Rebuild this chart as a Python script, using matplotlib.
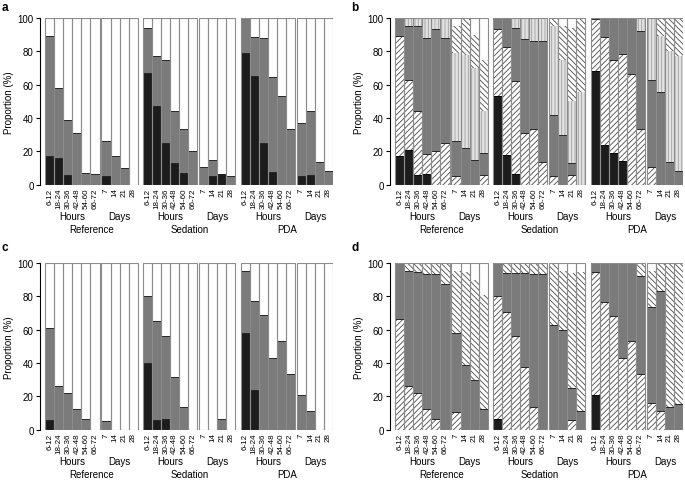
import numpy as np
import matplotlib
matplotlib.use('Agg')
import matplotlib.pyplot as plt

plt.rcParams['font.family'] = ['Liberation Sans', 'DejaVu Sans']
plt.rcParams['hatch.linewidth'] = 0.6

groups = ['Reference', 'Sedation', 'PDA']
hour_labels = ['6-12', '18-24', '30-36', '42-48', '54-60', '66-72']
day_labels = ['7', '14', '21', '28']

# every list: Reference (6 hours + 4 days), Sedation (...), PDA (...)
# panel a
a_black = [17, 16, 6, 0, 0, 0, 5.5, 0, 0, 0,
           67, 47, 25, 13, 7, 0, 0, 5, 6.5, 0,
           79, 65, 25, 7.5, 0, 0, 5.5, 6, 0, 0]
a_grey = [72, 42, 33, 31, 7, 6.5, 21, 17, 10, 0,
          27, 30, 50, 31, 26.5, 20, 10.5, 10, 0, 5.5,
          21, 23.5, 63, 57, 53.5, 33.5, 31.5, 38.5, 13.5, 8]

# panel b
b_black = [17, 21, 6, 6.5, 0, 0, 0, 0, 0, 0,
           53.5, 18, 6.5, 0, 0, 0, 0, 0, 0, 0,
           68.5, 24, 19, 14.5, 0, 0, 0, 0, 0, 0]
b_fwd = [72, 42, 38.5, 12, 20, 25, 5, 0, 0, 6,
         40, 64.5, 56, 31, 33.5, 13.5, 5, 0, 6, 0,
         31, 64.5, 56, 64, 66.5, 33.5, 10.5, 0, 0, 0]
b_grey = [11, 32, 50.5, 69.5, 73.5, 63, 21.5, 22, 15, 13,
          6.5, 17.5, 31.5, 56.5, 53, 73, 37, 30, 7, 0,
          0.5, 11.5, 25, 21.5, 33.5, 58.5, 52.5, 55.5, 13.5, 8]
b_vert = [0, 5, 5, 12, 6.5, 12, 52.5, 56, 55, 25,
          0, 0, 6, 12.5, 13.5, 13.5, 53, 45, 37, 55.5,
          0, 0, 0, 0, 0, 8, 37, 33.5, 66.5, 69]
b_back = [0, 0, 0, 0, 0, 0, 16, 22, 20, 31,
          0, 0, 0, 0, 0, 0, 5, 20, 44, 44.5,
          0, 0, 0, 0, 0, 0, 0, 11, 20, 23]

# panel c
c_black = [6, 0, 0, 0, 0, 0, 0, 0, 0, 0,
           40, 6, 6.5, 0, 0, 0, 0, 0, 0, 0,
           58, 24, 0, 0, 0, 0, 0, 0, 0, 0]
c_grey = [55, 26.5, 22, 12.5, 6.5, 0, 5, 0, 0, 0,
          40, 59, 50, 31.5, 13.5, 0, 0, 0, 6.5, 0,
          37, 53, 69, 43, 53.5, 33.5, 21, 11, 0, 0]

# panel d
d_black = [0, 0, 0, 0, 0, 0, 0, 0, 0, 0,
           6.5, 0, 0, 0, 0, 0, 0, 0, 0, 0,
           21, 0, 0, 0, 0, 0, 0, 0, 0, 0]
d_fwd = [66.5, 26.5, 22, 12.5, 6.5, 0, 10.5, 0, 0, 0,
         73.5, 70.5, 56, 37.5, 13.5, 0, 0, 0, 6, 0,
         73.5, 76.5, 68.5, 43, 53.5, 33.5, 16, 11, 0, 0]
d_grey = [33.5, 68.5, 72.5, 81, 87, 87.5, 47.5, 39, 30, 12.5,
          20, 23.5, 38, 56.5, 80, 93.5, 63, 60, 19, 11,
          5.5, 23.5, 31.5, 57, 46.5, 58.5, 57.5, 72.5, 13.5, 15.5]
d_back = [0, 5, 5.5, 6.5, 6.5, 12.5, 37, 55.5, 60, 68.5,
          0, 6, 6, 6, 6.5, 6.5, 37, 35, 69, 83.5,
          0, 0, 0, 0, 0, 8, 21.5, 16.5, 86.5, 84.5]

styles = {
    'black': dict(color='#1c1c1c', edgecolor='#000000', linewidth=0.7),
    'fwd': dict(color='white', hatch='//////', edgecolor='#4a4a4a', linewidth=0),
    'grey': dict(color='#7b7b7b', edgecolor='#262626', linewidth=0.7),
    'vert': dict(color='#e2e2e2', hatch='|||||', edgecolor='#a0a0a0', linewidth=0),
    'back': dict(color='white', hatch='\\\\\\\\\\\\', edgecolor='#4a4a4a', linewidth=0),
}

HD_GAP = 0.22
GRP_GAP = 0.62
x_pos = []
for g in range(3):
    off = g * (10 + HD_GAP + GRP_GAP)
    x_pos += [off + i + 0.5 for i in range(6)]
    x_pos += [off + 6 + HD_GAP + j + 0.5 for j in range(4)]
x_pos = np.array(x_pos)

fig = plt.figure(figsize=(6.85, 4.81), dpi=100)
W, H = 685.0, 481.0


def draw_panel(rect, layers, letter, letter_xy):
    ax = fig.add_axes(rect)
    bottom = np.zeros(len(x_pos))
    for vals, key in layers:
        vals = np.array(vals, dtype=float)
        ax.bar(x_pos, vals, width=1, bottom=bottom, **styles[key])
        bottom += vals
    ax.bar(x_pos, 100 - bottom, width=1, bottom=bottom, color='white', linewidth=0)
    ax.bar(x_pos, 100, width=1, fill=False, edgecolor='#8c8c8c', linewidth=0.8)

    ax.set_xlim(-0.6, 31.9)
    ax.set_ylim(0, 100)
    ax.set_yticks([0, 20, 40, 60, 80, 100])
    ax.tick_params(axis='y', labelsize=7, length=3, width=0.8, pad=1.5)
    ax.set_xticks(x_pos)
    ax.set_xticklabels((hour_labels + day_labels) * 3, rotation=90, fontsize=5.8)
    ax.tick_params(axis='x', length=0, pad=2)
    for s in ['top', 'right', 'bottom']:
        ax.spines[s].set_visible(False)
    ax.spines['left'].set_linewidth(0.8)
    ax.set_ylabel('Proportion (%)', fontsize=7)
    ax.yaxis.set_label_coords(-0.09, 0.5)

    trans = ax.get_xaxis_transform()
    for g in range(3):
        h_c = (x_pos[g * 10] + x_pos[g * 10 + 5]) / 2
        d_c = (x_pos[g * 10 + 6] + x_pos[g * 10 + 9]) / 2
        ax.text(h_c, -0.188, 'Hours', transform=trans, ha='center', va='center', fontsize=7)
        ax.text(d_c, -0.188, 'Days', transform=trans, ha='center', va='center', fontsize=7)
        ax.text((x_pos[g * 10] + x_pos[g * 10 + 9]) / 2, -0.268, groups[g],
                transform=trans, ha='center', va='center', fontsize=7)
    fig.text(letter_xy[0] / W, 1 - letter_xy[1] / H, letter, fontsize=8.5,
             fontweight='bold', ha='left', va='top')
    return ax


ax_h = 166.7 / H
ax_w = 293 / W
draw_panel([40 / W, 1 - 185.7 / H, ax_w, ax_h],
           [(a_black, 'black'), (a_grey, 'grey')], 'a', (2, 2))
draw_panel([390 / W, 1 - 185.7 / H, ax_w, ax_h],
           [(b_black, 'black'), (b_fwd, 'fwd'), (b_grey, 'grey'),
            (b_vert, 'vert'), (b_back, 'back')], 'b', (351, 2))
draw_panel([40 / W, 1 - 430.7 / H, ax_w, ax_h],
           [(c_black, 'black'), (c_grey, 'grey')], 'c', (2, 242))
draw_panel([390 / W, 1 - 430.7 / H, ax_w, ax_h],
           [(d_black, 'black'), (d_fwd, 'fwd'), (d_grey, 'grey'),
            (d_back, 'back')], 'd', (351, 242))

fig.savefig('out.png', dpi=100)
